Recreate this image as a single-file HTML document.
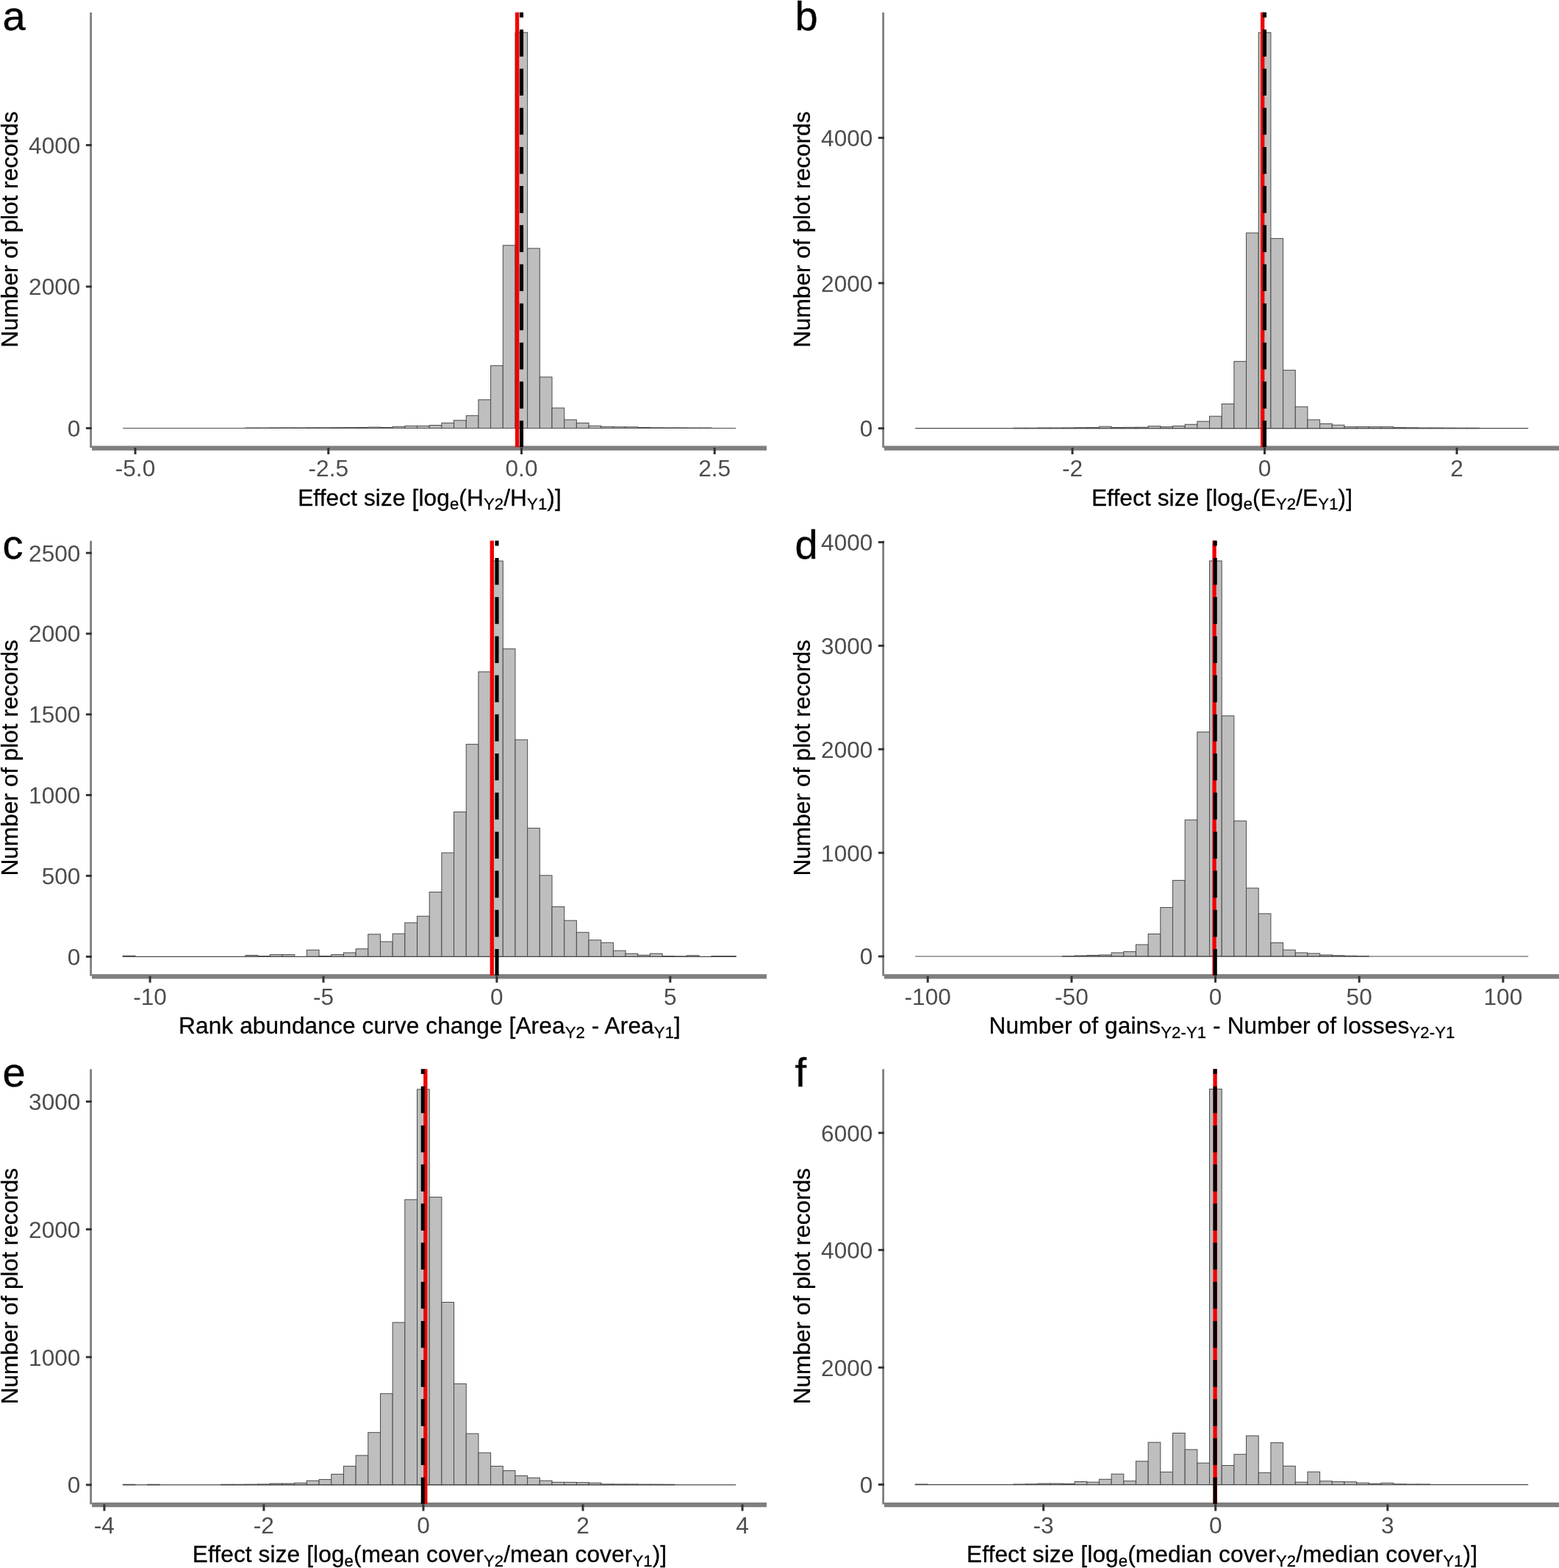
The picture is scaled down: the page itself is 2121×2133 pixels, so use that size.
<!DOCTYPE html>
<html><head><meta charset="utf-8"><title>Histograms of effect sizes</title>
<style>
html,body{margin:0;padding:0;background:#fff;}
svg{display:block;}
text{font-family:"Liberation Sans",Arial,Helvetica,sans-serif;}
.tl{font-size:31.6px;fill:#4d4d4d;stroke:#4d4d4d;stroke-width:0px;}
.tt{font-size:31.6px;fill:#000;stroke:#000;stroke-width:0.3px;letter-spacing:0.12px;}
.yt{font-size:31.6px;fill:#000;stroke:#000;stroke-width:0.3px;}
.pl{font-size:56px;fill:#000;stroke:#000;stroke-width:0.4px;}
</style></head><body>

<svg width="2121" height="2133" viewBox="0 0 2121 2133">
<rect width="2121" height="2133" fill="#fff"/>
<g fill="#bebebe" stroke="#4a4a4a" stroke-width="1">
<rect x="334" y="582" width="16.68" height="0.5"/>
<rect x="350.68" y="582" width="16.68" height="0.5"/>
<rect x="367.36" y="581.9" width="16.68" height="0.6"/>
<rect x="384.04" y="581.9" width="16.68" height="0.6"/>
<rect x="400.72" y="581.9" width="16.68" height="0.6"/>
<rect x="417.4" y="581.8" width="16.68" height="0.7"/>
<rect x="434.08" y="581.8" width="16.68" height="0.7"/>
<rect x="450.76" y="581.7" width="16.68" height="0.8"/>
<rect x="467.44" y="581.6" width="16.68" height="0.9"/>
<rect x="484.12" y="581.5" width="16.68" height="1"/>
<rect x="500.8" y="581.1" width="16.68" height="1.4"/>
<rect x="517.48" y="581.5" width="16.68" height="1"/>
<rect x="534.16" y="580.4" width="16.68" height="2.1"/>
<rect x="550.84" y="579.4" width="16.68" height="3.1"/>
<rect x="567.52" y="579.4" width="16.68" height="3.1"/>
<rect x="584.2" y="578.5" width="16.68" height="4"/>
<rect x="600.88" y="575.4" width="16.68" height="7.1"/>
<rect x="617.56" y="571.8" width="16.68" height="10.7"/>
<rect x="634.24" y="565.3" width="16.68" height="17.2"/>
<rect x="650.92" y="543.8" width="16.68" height="38.7"/>
<rect x="667.6" y="497.4" width="16.68" height="85.1"/>
<rect x="684.28" y="333.8" width="16.68" height="248.7"/>
<rect x="700.96" y="44.2" width="16.68" height="538.3"/>
<rect x="717.64" y="337.9" width="16.68" height="244.6"/>
<rect x="734.32" y="512.9" width="16.68" height="69.6"/>
<rect x="751" y="555" width="16.68" height="27.5"/>
<rect x="767.68" y="571" width="16.68" height="11.5"/>
<rect x="784.36" y="575.4" width="16.68" height="7.1"/>
<rect x="801.04" y="579.3" width="16.68" height="3.2"/>
<rect x="817.72" y="580.4" width="16.68" height="2.1"/>
<rect x="834.4" y="580.7" width="16.68" height="1.8"/>
<rect x="851.08" y="580.8" width="16.68" height="1.7"/>
<rect x="867.76" y="581.5" width="16.68" height="1"/>
<rect x="884.44" y="581.8" width="16.68" height="0.7"/>
<rect x="901.12" y="581.9" width="16.68" height="0.6"/>
<rect x="917.8" y="581.9" width="16.68" height="0.6"/>
<rect x="934.48" y="582" width="16.68" height="0.5"/>
<rect x="951.16" y="582" width="16.68" height="0.5"/>
</g>
<line x1="167.2" y1="582.5" x2="1001.2" y2="582.5" stroke="#4a4a4a" stroke-width="1.2"/>
<rect x="122.2" y="17" width="2.8" height="592" fill="#7f7f7f"/>
<rect x="125" y="606.5" width="918" height="6.3" fill="#7f7f7f"/>
<line x1="703.6" y1="16.8" x2="703.6" y2="608.3" stroke="#f00000" stroke-width="5.3"/>
<line x1="709.5" y1="16.8" x2="709.5" y2="608.3" stroke="#000" stroke-width="5.1" stroke-dasharray="36.6 16.6" stroke-dashoffset="29.7"/>
<rect x="116.9" y="581.05" width="8.1" height="2.9" fill="#333333"/>
<text x="109.4" y="593.9" text-anchor="end" class="tl">0</text>
<rect x="116.9" y="388.45" width="8.1" height="2.9" fill="#333333"/>
<text x="109.4" y="401.3" text-anchor="end" class="tl">2000</text>
<rect x="116.9" y="195.95" width="8.1" height="2.9" fill="#333333"/>
<text x="109.4" y="208.8" text-anchor="end" class="tl">4000</text>
<rect x="182.5" y="609" width="3" height="9" fill="#333333"/>
<text x="184" y="648.1" text-anchor="middle" class="tl">-5.0</text>
<rect x="445.3" y="609" width="3" height="9" fill="#333333"/>
<text x="446.8" y="648.1" text-anchor="middle" class="tl">-2.5</text>
<rect x="708" y="609" width="3" height="9" fill="#333333"/>
<text x="709.5" y="648.1" text-anchor="middle" class="tl">0.0</text>
<rect x="970.7" y="609" width="3" height="9" fill="#333333"/>
<text x="972.2" y="648.1" text-anchor="middle" class="tl">2.5</text>
<text x="584.5" y="687.5" text-anchor="middle" class="tt"><tspan>Effect size [log</tspan><tspan dy="5.8" font-size="22.1">e</tspan><tspan dy="-5.8">(H</tspan><tspan dy="5.8" font-size="22.1">Y2</tspan><tspan dy="-5.8">/H</tspan><tspan dy="5.8" font-size="22.1">Y1</tspan><tspan dy="-5.8">)]</tspan></text>
<text transform="translate(23.5 312.2) rotate(-90)" text-anchor="middle" class="yt">Number of plot records</text>
<text x="3.5" y="41" class="pl">a</text>
<g fill="#bebebe" stroke="#4a4a4a" stroke-width="1">
<rect x="1378.64" y="582.2" width="16.68" height="0.5"/>
<rect x="1395.32" y="582.2" width="16.68" height="0.5"/>
<rect x="1412" y="582" width="16.68" height="0.7"/>
<rect x="1428.68" y="582" width="16.68" height="0.7"/>
<rect x="1445.36" y="581.9" width="16.68" height="0.8"/>
<rect x="1462.04" y="581.7" width="16.68" height="1"/>
<rect x="1478.72" y="581.6" width="16.68" height="1.1"/>
<rect x="1495.4" y="580.2" width="16.68" height="2.5"/>
<rect x="1512.08" y="581.5" width="16.68" height="1.2"/>
<rect x="1528.76" y="581.3" width="16.68" height="1.4"/>
<rect x="1545.44" y="581.2" width="16.68" height="1.5"/>
<rect x="1562.12" y="579.7" width="16.68" height="3"/>
<rect x="1578.8" y="580.6" width="16.68" height="2.1"/>
<rect x="1595.48" y="579.5" width="16.68" height="3.2"/>
<rect x="1612.16" y="577.3" width="16.68" height="5.4"/>
<rect x="1628.84" y="573.2" width="16.68" height="9.5"/>
<rect x="1645.52" y="566.2" width="16.68" height="16.5"/>
<rect x="1662.2" y="549.5" width="16.68" height="33.2"/>
<rect x="1678.88" y="491.7" width="16.68" height="91"/>
<rect x="1695.56" y="316.9" width="16.68" height="265.8"/>
<rect x="1712.24" y="44.3" width="16.68" height="538.4"/>
<rect x="1728.92" y="324.4" width="16.68" height="258.3"/>
<rect x="1745.6" y="503.6" width="16.68" height="79.1"/>
<rect x="1762.28" y="553.3" width="16.68" height="29.4"/>
<rect x="1778.96" y="571" width="16.68" height="11.7"/>
<rect x="1795.64" y="576.5" width="16.68" height="6.2"/>
<rect x="1812.32" y="578.2" width="16.68" height="4.5"/>
<rect x="1829" y="580.6" width="16.68" height="2.1"/>
<rect x="1845.68" y="580.5" width="16.68" height="2.2"/>
<rect x="1862.36" y="580.6" width="16.68" height="2.1"/>
<rect x="1879.04" y="580.6" width="16.68" height="2.1"/>
<rect x="1895.72" y="581.6" width="16.68" height="1.1"/>
<rect x="1912.4" y="581.8" width="16.68" height="0.9"/>
<rect x="1929.08" y="582" width="16.68" height="0.7"/>
<rect x="1945.76" y="582" width="16.68" height="0.7"/>
<rect x="1962.44" y="582.1" width="16.68" height="0.6"/>
<rect x="1979.12" y="582.2" width="16.68" height="0.5"/>
<rect x="1995.8" y="582.2" width="16.68" height="0.5"/>
</g>
<line x1="1245.2" y1="582.7" x2="2079.2" y2="582.7" stroke="#4a4a4a" stroke-width="1.2"/>
<rect x="1200.2" y="17" width="2.8" height="592" fill="#7f7f7f"/>
<rect x="1203" y="606.5" width="918" height="6.3" fill="#7f7f7f"/>
<line x1="1717.7" y1="16.8" x2="1717.7" y2="608.3" stroke="#f00000" stroke-width="5.3"/>
<line x1="1720.5" y1="16.8" x2="1720.5" y2="608.3" stroke="#000" stroke-width="5.1" stroke-dasharray="36.6 16.6" stroke-dashoffset="29.7"/>
<rect x="1194.9" y="581.25" width="8.1" height="2.9" fill="#333333"/>
<text x="1187.4" y="594.1" text-anchor="end" class="tl">0</text>
<rect x="1194.9" y="383.65" width="8.1" height="2.9" fill="#333333"/>
<text x="1187.4" y="396.5" text-anchor="end" class="tl">2000</text>
<rect x="1194.9" y="186.05" width="8.1" height="2.9" fill="#333333"/>
<text x="1187.4" y="198.9" text-anchor="end" class="tl">4000</text>
<rect x="1457.5" y="609" width="3" height="9" fill="#333333"/>
<text x="1459" y="648.1" text-anchor="middle" class="tl">-2</text>
<rect x="1719" y="609" width="3" height="9" fill="#333333"/>
<text x="1720.5" y="648.1" text-anchor="middle" class="tl">0</text>
<rect x="1980.5" y="609" width="3" height="9" fill="#333333"/>
<text x="1982" y="648.1" text-anchor="middle" class="tl">2</text>
<text x="1662.5" y="687.5" text-anchor="middle" class="tt"><tspan>Effect size [log</tspan><tspan dy="5.8" font-size="22.1">e</tspan><tspan dy="-5.8">(E</tspan><tspan dy="5.8" font-size="22.1">Y2</tspan><tspan dy="-5.8">/E</tspan><tspan dy="5.8" font-size="22.1">Y1</tspan><tspan dy="-5.8">)]</tspan></text>
<text transform="translate(1101.5 312.2) rotate(-90)" text-anchor="middle" class="yt">Number of plot records</text>
<text x="1081.5" y="41" class="pl">b</text>
<g fill="#bebebe" stroke="#4a4a4a" stroke-width="1">
<rect x="167.2" y="1300.2" width="16.68" height="1.2"/>
<rect x="334" y="1299.5" width="16.68" height="1.9"/>
<rect x="350.68" y="1300.6" width="16.68" height="0.8"/>
<rect x="367.36" y="1298.6" width="16.68" height="2.8"/>
<rect x="384.04" y="1298.6" width="16.68" height="2.8"/>
<rect x="417.4" y="1292.3" width="16.68" height="9.1"/>
<rect x="434.08" y="1300.5" width="16.68" height="0.9"/>
<rect x="450.76" y="1298.6" width="16.68" height="2.8"/>
<rect x="467.44" y="1296" width="16.68" height="5.4"/>
<rect x="484.12" y="1290.8" width="16.68" height="10.6"/>
<rect x="500.8" y="1270.9" width="16.68" height="30.5"/>
<rect x="517.48" y="1281" width="16.68" height="20.4"/>
<rect x="534.16" y="1270.2" width="16.68" height="31.2"/>
<rect x="550.84" y="1255.2" width="16.68" height="46.2"/>
<rect x="567.52" y="1246.3" width="16.68" height="55.1"/>
<rect x="584.2" y="1213.5" width="16.68" height="87.9"/>
<rect x="600.88" y="1160.1" width="16.68" height="141.3"/>
<rect x="617.56" y="1104.5" width="16.68" height="196.9"/>
<rect x="634.24" y="1012.4" width="16.68" height="289"/>
<rect x="650.92" y="913.9" width="16.68" height="387.5"/>
<rect x="667.6" y="763.1" width="16.68" height="538.3"/>
<rect x="684.28" y="882.7" width="16.68" height="418.7"/>
<rect x="700.96" y="1006.3" width="16.68" height="295.1"/>
<rect x="717.64" y="1126.6" width="16.68" height="174.8"/>
<rect x="734.32" y="1190.9" width="16.68" height="110.5"/>
<rect x="751" y="1233.5" width="16.68" height="67.9"/>
<rect x="767.68" y="1252.2" width="16.68" height="49.2"/>
<rect x="784.36" y="1268.3" width="16.68" height="33.1"/>
<rect x="801.04" y="1278.8" width="16.68" height="22.6"/>
<rect x="817.72" y="1282.3" width="16.68" height="19.1"/>
<rect x="834.4" y="1293.2" width="16.68" height="8.2"/>
<rect x="851.08" y="1297.2" width="16.68" height="4.2"/>
<rect x="867.76" y="1299.3" width="16.68" height="2.1"/>
<rect x="884.44" y="1297.2" width="16.68" height="4.2"/>
<rect x="901.12" y="1300.6" width="16.68" height="0.8"/>
<rect x="917.8" y="1300.9" width="16.68" height="0.5"/>
<rect x="934.48" y="1299.8" width="16.68" height="1.6"/>
<rect x="967.84" y="1300.6" width="16.68" height="0.8"/>
<rect x="984.52" y="1300.6" width="16.68" height="0.8"/>
</g>
<line x1="167.2" y1="1301.4" x2="1001.2" y2="1301.4" stroke="#4a4a4a" stroke-width="1.2"/>
<rect x="122.2" y="735.7" width="2.8" height="592" fill="#7f7f7f"/>
<rect x="125" y="1325.2" width="918" height="6.3" fill="#7f7f7f"/>
<line x1="669.3" y1="735.5" x2="669.3" y2="1327" stroke="#f00000" stroke-width="5.3"/>
<line x1="676" y1="735.5" x2="676" y2="1327" stroke="#000" stroke-width="5.1" stroke-dasharray="36.6 16.6" stroke-dashoffset="29.7"/>
<rect x="116.9" y="1299.95" width="8.1" height="2.9" fill="#333333"/>
<text x="109.4" y="1312.8" text-anchor="end" class="tl">0</text>
<rect x="116.9" y="1189.95" width="8.1" height="2.9" fill="#333333"/>
<text x="109.4" y="1202.8" text-anchor="end" class="tl">500</text>
<rect x="116.9" y="1080.15" width="8.1" height="2.9" fill="#333333"/>
<text x="109.4" y="1093" text-anchor="end" class="tl">1000</text>
<rect x="116.9" y="970.35" width="8.1" height="2.9" fill="#333333"/>
<text x="109.4" y="983.2" text-anchor="end" class="tl">1500</text>
<rect x="116.9" y="860.55" width="8.1" height="2.9" fill="#333333"/>
<text x="109.4" y="873.4" text-anchor="end" class="tl">2000</text>
<rect x="116.9" y="750.75" width="8.1" height="2.9" fill="#333333"/>
<text x="109.4" y="763.6" text-anchor="end" class="tl">2500</text>
<rect x="202.6" y="1327.7" width="3" height="9" fill="#333333"/>
<text x="204.1" y="1366.8" text-anchor="middle" class="tl">-10</text>
<rect x="438.5" y="1327.7" width="3" height="9" fill="#333333"/>
<text x="440" y="1366.8" text-anchor="middle" class="tl">-5</text>
<rect x="674.4" y="1327.7" width="3" height="9" fill="#333333"/>
<text x="675.9" y="1366.8" text-anchor="middle" class="tl">0</text>
<rect x="910.3" y="1327.7" width="3" height="9" fill="#333333"/>
<text x="911.8" y="1366.8" text-anchor="middle" class="tl">5</text>
<text x="584.5" y="1406.2" text-anchor="middle" class="tt"><tspan>Rank abundance curve change [Area</tspan><tspan dy="5.8" font-size="22.1">Y2</tspan><tspan dy="-5.8"> - Area</tspan><tspan dy="5.8" font-size="22.1">Y1</tspan><tspan dy="-5.8">]</tspan></text>
<text transform="translate(23.5 1030.9) rotate(-90)" text-anchor="middle" class="yt">Number of plot records</text>
<text x="3.5" y="759.7" class="pl">c</text>
<g fill="#bebebe" stroke="#4a4a4a" stroke-width="1">
<rect x="1445.36" y="1300.6" width="16.68" height="0.4"/>
<rect x="1462.04" y="1300" width="16.68" height="1"/>
<rect x="1478.72" y="1299.5" width="16.68" height="1.5"/>
<rect x="1495.4" y="1299" width="16.68" height="2"/>
<rect x="1512.08" y="1296" width="16.68" height="5"/>
<rect x="1528.76" y="1294.6" width="16.68" height="6.4"/>
<rect x="1545.44" y="1285" width="16.68" height="16"/>
<rect x="1562.12" y="1270.5" width="16.68" height="30.5"/>
<rect x="1578.8" y="1234.5" width="16.68" height="66.5"/>
<rect x="1595.48" y="1197.6" width="16.68" height="103.4"/>
<rect x="1612.16" y="1115.3" width="16.68" height="185.7"/>
<rect x="1628.84" y="995.8" width="16.68" height="305.2"/>
<rect x="1645.52" y="763" width="16.68" height="538"/>
<rect x="1662.2" y="973.8" width="16.68" height="327.2"/>
<rect x="1678.88" y="1116.8" width="16.68" height="184.2"/>
<rect x="1695.56" y="1208.1" width="16.68" height="92.9"/>
<rect x="1712.24" y="1242.9" width="16.68" height="58.1"/>
<rect x="1728.92" y="1282.5" width="16.68" height="18.5"/>
<rect x="1745.6" y="1292.2" width="16.68" height="8.8"/>
<rect x="1762.28" y="1296" width="16.68" height="5"/>
<rect x="1778.96" y="1297" width="16.68" height="4"/>
<rect x="1795.64" y="1299" width="16.68" height="2"/>
<rect x="1812.32" y="1299.8" width="16.68" height="1.2"/>
<rect x="1829" y="1300.3" width="16.68" height="0.7"/>
<rect x="1845.68" y="1300.6" width="16.68" height="0.4"/>
</g>
<line x1="1245.2" y1="1301" x2="2079.2" y2="1301" stroke="#4a4a4a" stroke-width="1.2"/>
<rect x="1200.2" y="735.7" width="2.8" height="592" fill="#7f7f7f"/>
<rect x="1203" y="1325.2" width="918" height="6.3" fill="#7f7f7f"/>
<line x1="1652.1" y1="735.5" x2="1652.1" y2="1327" stroke="#f00000" stroke-width="5.3"/>
<line x1="1653.2" y1="735.5" x2="1653.2" y2="1327" stroke="#000" stroke-width="5.1" stroke-dasharray="36.6 16.6" stroke-dashoffset="29.7"/>
<rect x="1194.9" y="1299.55" width="8.1" height="2.9" fill="#333333"/>
<text x="1187.4" y="1312.4" text-anchor="end" class="tl">0</text>
<rect x="1194.9" y="1158.65" width="8.1" height="2.9" fill="#333333"/>
<text x="1187.4" y="1171.5" text-anchor="end" class="tl">1000</text>
<rect x="1194.9" y="1017.75" width="8.1" height="2.9" fill="#333333"/>
<text x="1187.4" y="1030.6" text-anchor="end" class="tl">2000</text>
<rect x="1194.9" y="876.95" width="8.1" height="2.9" fill="#333333"/>
<text x="1187.4" y="889.8" text-anchor="end" class="tl">3000</text>
<rect x="1194.9" y="736.15" width="8.1" height="2.9" fill="#333333"/>
<text x="1187.4" y="749" text-anchor="end" class="tl">4000</text>
<rect x="1260.7" y="1327.7" width="3" height="9" fill="#333333"/>
<text x="1262.2" y="1366.8" text-anchor="middle" class="tl">-100</text>
<rect x="1456.4" y="1327.7" width="3" height="9" fill="#333333"/>
<text x="1457.9" y="1366.8" text-anchor="middle" class="tl">-50</text>
<rect x="1652.05" y="1327.7" width="3" height="9" fill="#333333"/>
<text x="1653.55" y="1366.8" text-anchor="middle" class="tl">0</text>
<rect x="1847.7" y="1327.7" width="3" height="9" fill="#333333"/>
<text x="1849.2" y="1366.8" text-anchor="middle" class="tl">50</text>
<rect x="2043.4" y="1327.7" width="3" height="9" fill="#333333"/>
<text x="2044.9" y="1366.8" text-anchor="middle" class="tl">100</text>
<text x="1662.5" y="1406.2" text-anchor="middle" class="tt"><tspan>Number of gains</tspan><tspan dy="5.8" font-size="22.1">Y2-Y1</tspan><tspan dy="-5.8"> - Number of losses</tspan><tspan dy="5.8" font-size="22.1">Y2-Y1</tspan></text>
<text transform="translate(1101.5 1030.9) rotate(-90)" text-anchor="middle" class="yt">Number of plot records</text>
<text x="1081.5" y="759.7" class="pl">d</text>
<g fill="#bebebe" stroke="#4a4a4a" stroke-width="1">
<rect x="167.2" y="2019.3" width="16.68" height="0.5"/>
<rect x="200.56" y="2019.3" width="16.68" height="0.5"/>
<rect x="300.64" y="2019.3" width="16.68" height="0.5"/>
<rect x="317.32" y="2019.3" width="16.68" height="0.5"/>
<rect x="334" y="2019.2" width="16.68" height="0.6"/>
<rect x="350.68" y="2019" width="16.68" height="0.8"/>
<rect x="367.36" y="2018.1" width="16.68" height="1.7"/>
<rect x="384.04" y="2018.1" width="16.68" height="1.7"/>
<rect x="400.72" y="2017.3" width="16.68" height="2.5"/>
<rect x="417.4" y="2014.2" width="16.68" height="5.6"/>
<rect x="434.08" y="2012.6" width="16.68" height="7.2"/>
<rect x="450.76" y="2005.4" width="16.68" height="14.4"/>
<rect x="467.44" y="1994.5" width="16.68" height="25.3"/>
<rect x="484.12" y="1979.9" width="16.68" height="39.9"/>
<rect x="500.8" y="1948.7" width="16.68" height="71.1"/>
<rect x="517.48" y="1895.8" width="16.68" height="124"/>
<rect x="534.16" y="1799" width="16.68" height="220.8"/>
<rect x="550.84" y="1631.9" width="16.68" height="387.9"/>
<rect x="567.52" y="1481.9" width="16.68" height="537.9"/>
<rect x="584.2" y="1628.5" width="16.68" height="391.3"/>
<rect x="600.88" y="1771.5" width="16.68" height="248.3"/>
<rect x="617.56" y="1882.4" width="16.68" height="137.4"/>
<rect x="634.24" y="1950.2" width="16.68" height="69.6"/>
<rect x="650.92" y="1976.2" width="16.68" height="43.6"/>
<rect x="667.6" y="1994.5" width="16.68" height="25.3"/>
<rect x="684.28" y="2000.6" width="16.68" height="19.2"/>
<rect x="700.96" y="2007.6" width="16.68" height="12.2"/>
<rect x="717.64" y="2010.3" width="16.68" height="9.5"/>
<rect x="734.32" y="2014.2" width="16.68" height="5.6"/>
<rect x="751" y="2016.3" width="16.68" height="3.5"/>
<rect x="767.68" y="2016.4" width="16.68" height="3.4"/>
<rect x="784.36" y="2016.7" width="16.68" height="3.1"/>
<rect x="801.04" y="2017.2" width="16.68" height="2.6"/>
<rect x="817.72" y="2018.9" width="16.68" height="0.9"/>
<rect x="834.4" y="2019" width="16.68" height="0.8"/>
<rect x="851.08" y="2019" width="16.68" height="0.8"/>
<rect x="867.76" y="2019.2" width="16.68" height="0.6"/>
<rect x="884.44" y="2019.2" width="16.68" height="0.6"/>
<rect x="901.12" y="2019.3" width="16.68" height="0.5"/>
</g>
<line x1="167.2" y1="2019.8" x2="1001.2" y2="2019.8" stroke="#4a4a4a" stroke-width="1.2"/>
<rect x="122.2" y="1454.4" width="2.8" height="592" fill="#7f7f7f"/>
<rect x="125" y="2043.9" width="918" height="6.3" fill="#7f7f7f"/>
<line x1="578.8" y1="1454.2" x2="578.8" y2="2045.7" stroke="#f00000" stroke-width="5.3"/>
<line x1="575.3" y1="1454.2" x2="575.3" y2="2045.7" stroke="#000" stroke-width="5.1" stroke-dasharray="36.6 16.6" stroke-dashoffset="29.7"/>
<rect x="116.9" y="2018.45" width="8.1" height="2.9" fill="#333333"/>
<text x="109.4" y="2031.3" text-anchor="end" class="tl">0</text>
<rect x="116.9" y="1844.65" width="8.1" height="2.9" fill="#333333"/>
<text x="109.4" y="1857.5" text-anchor="end" class="tl">1000</text>
<rect x="116.9" y="1670.85" width="8.1" height="2.9" fill="#333333"/>
<text x="109.4" y="1683.7" text-anchor="end" class="tl">2000</text>
<rect x="116.9" y="1497.05" width="8.1" height="2.9" fill="#333333"/>
<text x="109.4" y="1509.9" text-anchor="end" class="tl">3000</text>
<rect x="140.4" y="2046.4" width="3" height="9" fill="#333333"/>
<text x="141.9" y="2085.5" text-anchor="middle" class="tl">-4</text>
<rect x="357.4" y="2046.4" width="3" height="9" fill="#333333"/>
<text x="358.9" y="2085.5" text-anchor="middle" class="tl">-2</text>
<rect x="574.45" y="2046.4" width="3" height="9" fill="#333333"/>
<text x="575.95" y="2085.5" text-anchor="middle" class="tl">0</text>
<rect x="791.5" y="2046.4" width="3" height="9" fill="#333333"/>
<text x="793" y="2085.5" text-anchor="middle" class="tl">2</text>
<rect x="1008.5" y="2046.4" width="3" height="9" fill="#333333"/>
<text x="1010" y="2085.5" text-anchor="middle" class="tl">4</text>
<text x="584.5" y="2124.9" text-anchor="middle" class="tt"><tspan>Effect size [log</tspan><tspan dy="5.8" font-size="22.1">e</tspan><tspan dy="-5.8">(mean cover</tspan><tspan dy="5.8" font-size="22.1">Y2</tspan><tspan dy="-5.8">/mean cover</tspan><tspan dy="5.8" font-size="22.1">Y1</tspan><tspan dy="-5.8">)]</tspan></text>
<text transform="translate(23.5 1749.6) rotate(-90)" text-anchor="middle" class="yt">Number of plot records</text>
<text x="3.5" y="1478.4" class="pl">e</text>
<g fill="#bebebe" stroke="#4a4a4a" stroke-width="1">
<rect x="1245.2" y="2019" width="16.68" height="0.6"/>
<rect x="1378.64" y="2019" width="16.68" height="0.6"/>
<rect x="1395.32" y="2018.8" width="16.68" height="0.8"/>
<rect x="1412" y="2018.1" width="16.68" height="1.5"/>
<rect x="1428.68" y="2018.1" width="16.68" height="1.5"/>
<rect x="1445.36" y="2018.4" width="16.68" height="1.2"/>
<rect x="1462.04" y="2015.5" width="16.68" height="4.1"/>
<rect x="1478.72" y="2016.2" width="16.68" height="3.4"/>
<rect x="1495.4" y="2012.3" width="16.68" height="7.3"/>
<rect x="1512.08" y="2005.2" width="16.68" height="14.4"/>
<rect x="1528.76" y="2014.7" width="16.68" height="4.9"/>
<rect x="1545.44" y="1987.8" width="16.68" height="31.8"/>
<rect x="1562.12" y="1962.1" width="16.68" height="57.5"/>
<rect x="1578.8" y="2002.4" width="16.68" height="17.2"/>
<rect x="1595.48" y="1949.5" width="16.68" height="70.1"/>
<rect x="1612.16" y="1971.9" width="16.68" height="47.7"/>
<rect x="1628.84" y="1990.2" width="16.68" height="29.4"/>
<rect x="1645.52" y="1481.5" width="16.68" height="538.1"/>
<rect x="1662.2" y="1993.5" width="16.68" height="26.1"/>
<rect x="1678.88" y="1978.3" width="16.68" height="41.3"/>
<rect x="1695.56" y="1953.1" width="16.68" height="66.5"/>
<rect x="1712.24" y="2003.4" width="16.68" height="16.2"/>
<rect x="1728.92" y="1962.6" width="16.68" height="57"/>
<rect x="1745.6" y="1994.3" width="16.68" height="25.3"/>
<rect x="1762.28" y="2016.2" width="16.68" height="3.4"/>
<rect x="1778.96" y="2002.2" width="16.68" height="17.4"/>
<rect x="1795.64" y="2014.8" width="16.68" height="4.8"/>
<rect x="1812.32" y="2015.6" width="16.68" height="4"/>
<rect x="1829" y="2015.8" width="16.68" height="3.8"/>
<rect x="1845.68" y="2017.2" width="16.68" height="2.4"/>
<rect x="1862.36" y="2018.2" width="16.68" height="1.4"/>
<rect x="1879.04" y="2017.4" width="16.68" height="2.2"/>
<rect x="1895.72" y="2018.8" width="16.68" height="0.8"/>
<rect x="1912.4" y="2019" width="16.68" height="0.6"/>
<rect x="1929.08" y="2019" width="16.68" height="0.6"/>
</g>
<line x1="1245.2" y1="2019.6" x2="2079.2" y2="2019.6" stroke="#4a4a4a" stroke-width="1.2"/>
<rect x="1200.2" y="1454.4" width="2.8" height="592" fill="#7f7f7f"/>
<rect x="1203" y="2043.9" width="918" height="6.3" fill="#7f7f7f"/>
<line x1="1653.1" y1="1454.2" x2="1653.1" y2="2045.7" stroke="#f00000" stroke-width="5.3"/>
<line x1="1653.1" y1="1454.2" x2="1653.1" y2="2045.7" stroke="#000" stroke-width="5.1" stroke-dasharray="36.6 16.6" stroke-dashoffset="29.7"/>
<rect x="1194.9" y="2018.05" width="8.1" height="2.9" fill="#333333"/>
<text x="1187.4" y="2030.9" text-anchor="end" class="tl">0</text>
<rect x="1194.9" y="1858.85" width="8.1" height="2.9" fill="#333333"/>
<text x="1187.4" y="1871.7" text-anchor="end" class="tl">2000</text>
<rect x="1194.9" y="1698.95" width="8.1" height="2.9" fill="#333333"/>
<text x="1187.4" y="1711.8" text-anchor="end" class="tl">4000</text>
<rect x="1194.9" y="1539.65" width="8.1" height="2.9" fill="#333333"/>
<text x="1187.4" y="1552.5" text-anchor="end" class="tl">6000</text>
<rect x="1418.1" y="2046.4" width="3" height="9" fill="#333333"/>
<text x="1419.6" y="2085.5" text-anchor="middle" class="tl">-3</text>
<rect x="1652.2" y="2046.4" width="3" height="9" fill="#333333"/>
<text x="1653.7" y="2085.5" text-anchor="middle" class="tl">0</text>
<rect x="1886.3" y="2046.4" width="3" height="9" fill="#333333"/>
<text x="1887.8" y="2085.5" text-anchor="middle" class="tl">3</text>
<text x="1662.5" y="2124.9" text-anchor="middle" class="tt"><tspan>Effect size [log</tspan><tspan dy="5.8" font-size="22.1">e</tspan><tspan dy="-5.8">(median cover</tspan><tspan dy="5.8" font-size="22.1">Y2</tspan><tspan dy="-5.8">/median cover</tspan><tspan dy="5.8" font-size="22.1">Y1</tspan><tspan dy="-5.8">)]</tspan></text>
<text transform="translate(1101.5 1749.6) rotate(-90)" text-anchor="middle" class="yt">Number of plot records</text>
<text x="1081.5" y="1478.4" class="pl">f</text>
</svg>
</body></html>
